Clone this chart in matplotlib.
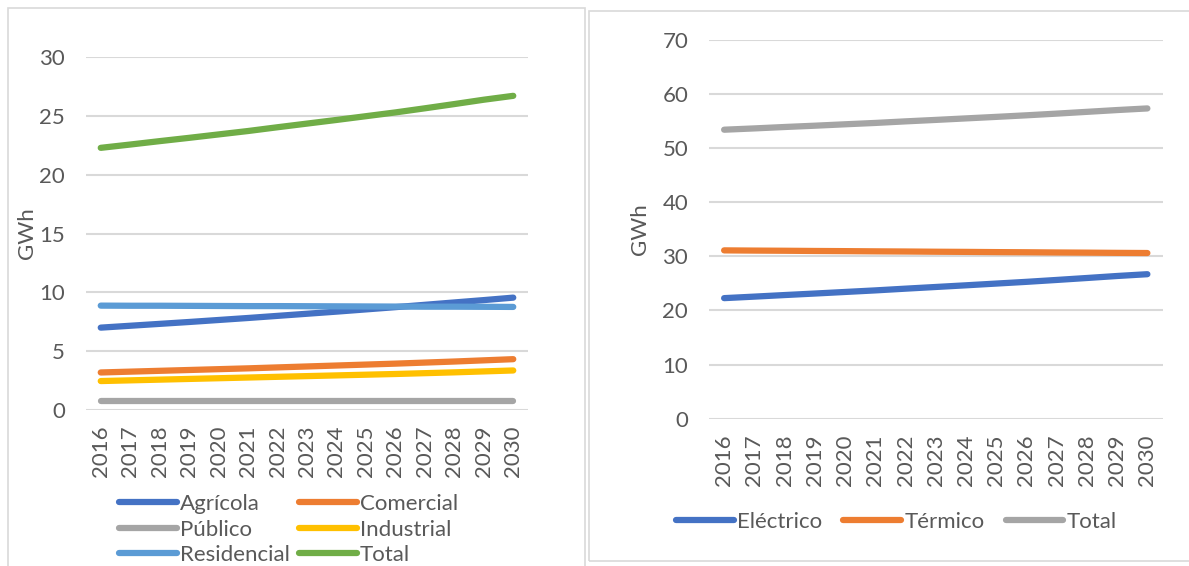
import numpy as np
import matplotlib.pyplot as plt
from matplotlib.patches import Rectangle

plt.rcParams['font.family'] = ['Lato', 'DejaVu Sans']

years = [str(y) for y in range(2016, 2031)]

# consumo por sector (GWh)
agricola = [7.00, 7.16, 7.32, 7.48, 7.65, 7.82, 8.00, 8.18, 8.36, 8.55, 8.74, 8.94, 9.14, 9.34, 9.55]
comercial = [3.19, 3.26, 3.33, 3.40, 3.47, 3.54, 3.62, 3.70, 3.78, 3.86, 3.94, 4.03, 4.12, 4.22, 4.32]
publico = [0.76, 0.76, 0.76, 0.76, 0.76, 0.76, 0.76, 0.76, 0.76, 0.76, 0.76, 0.76, 0.76, 0.76, 0.76]
industrial = [2.46, 2.52, 2.58, 2.64, 2.70, 2.76, 2.82, 2.88, 2.94, 3.00, 3.06, 3.13, 3.20, 3.28, 3.36]
residencial = [8.87, 8.86, 8.86, 8.85, 8.84, 8.83, 8.83, 8.82, 8.81, 8.80, 8.79, 8.78, 8.78, 8.77, 8.76]
total_sect = [22.28, 22.56, 22.85, 23.13, 23.42, 23.71, 24.03, 24.34, 24.65, 24.97, 25.29, 25.64, 26.00, 26.37, 26.70]

# electrico vs termico (GWh)
electrico = [22.28, 22.56, 22.85, 23.13, 23.42, 23.71, 24.03, 24.34, 24.65, 24.97, 25.29, 25.64, 26.00, 26.37, 26.70]
termico = [31.10, 31.06, 31.03, 30.99, 30.96, 30.92, 30.89, 30.85, 30.82, 30.78, 30.75, 30.71, 30.68, 30.64, 30.61]
total_tipo = [53.38, 53.62, 53.88, 54.12, 54.38, 54.63, 54.92, 55.19, 55.47, 55.75, 56.04, 56.35, 56.68, 57.01, 57.31]

W, H = 1189, 566
fig = plt.figure(figsize=(W / 100, H / 100), dpi=100)

GRID = '#D9D9D9'
TXT = '#595959'
LW = 4.5
FS = 16


def fx(px):
    return px / W


def fy(py):
    return 1 - py / H


# marcos de cada grafico
fig.patches.append(Rectangle((fx(7.7), -0.02), fx(585 - 7.7), fy(8.4) + 0.02,
                             transform=fig.transFigure, fill=False, ec=GRID, lw=1.2))
fig.patches.append(Rectangle((fx(588.5), fy(561)), fx(620), fy(10.8) - fy(561),
                             transform=fig.transFigure, fill=False, ec=GRID, lw=1.2))


def style(ax, ymax, step):
    x = np.arange(len(years))
    ax.set_xlim(-0.5, len(years) - 0.5)
    ax.set_ylim(0, ymax)
    ax.set_yticks(np.arange(0, ymax + 1, step))
    ax.set_xticks(x)
    ax.set_xticklabels(years, rotation=90, va='top')
    ax.grid(axis='y', color=GRID, lw=1.5)
    ax.set_axisbelow(True)
    for s in ax.spines.values():
        s.set_visible(False)
    ax.tick_params(length=0, labelsize=FS, labelcolor=TXT)
    ax.tick_params(axis='y', pad=15)
    ax.tick_params(axis='x', pad=11)
    ax.set_ylabel('GWh', fontsize=FS, color=TXT)
    return x


# sectores
ax1 = fig.add_axes([fx(86), fy(410), fx(528 - 86), fy(57) - fy(410)])
x = style(ax1, 30, 5)
series1 = [
    ('Agrícola', agricola, '#4472C4'),
    ('Comercial', comercial, '#ED7D31'),
    ('Público', publico, '#A5A5A5'),
    ('Industrial', industrial, '#FFC000'),
    ('Residencial', residencial, '#5B9BD5'),
    ('Total', total_sect, '#70AD47'),
]
lines = {}
for name, vals, col in series1:
    lines[name], = ax1.plot(x, vals, color=col, lw=LW, solid_capstyle='round', label=name)
ax1.yaxis.set_label_coords(-0.11, 0.5)
# leyenda por filas: se ordena por columnas para ncol=2
order = ['Agrícola', 'Público', 'Residencial', 'Comercial', 'Industrial', 'Total']
ax1.legend([lines[n] for n in order], order, loc='upper left',
           bbox_to_anchor=(fx(119), fy(494)), bbox_transform=fig.transFigure,
           ncol=2, frameon=False, fontsize=FS, handlelength=2.6, handletextpad=0.15,
           columnspacing=0.4, labelspacing=0.25, borderpad=0, borderaxespad=0, labelcolor=TXT)

# electrico / termico
ax2 = fig.add_axes([fx(709), fy(418.8), fx(1162.5 - 709), fy(39.7) - fy(418.8)])
x = style(ax2, 70, 10)
series2 = [
    ('Eléctrico', electrico, '#4472C4'),
    ('Térmico', termico, '#ED7D31'),
    ('Total', total_tipo, '#A5A5A5'),
]
for name, vals, col in series2:
    ax2.plot(x, vals, color=col, lw=LW, solid_capstyle='round', label=name)
ax2.yaxis.set_label_coords(-0.13, 0.5)
ax2.legend(loc='upper left', bbox_to_anchor=(fx(676), fy(512)), bbox_transform=fig.transFigure,
           ncol=3, frameon=False, fontsize=FS, handlelength=2.6, handletextpad=0.15,
           columnspacing=0.95, borderpad=0, borderaxespad=0, labelcolor=TXT)

fig.savefig('out.png', dpi=100)
